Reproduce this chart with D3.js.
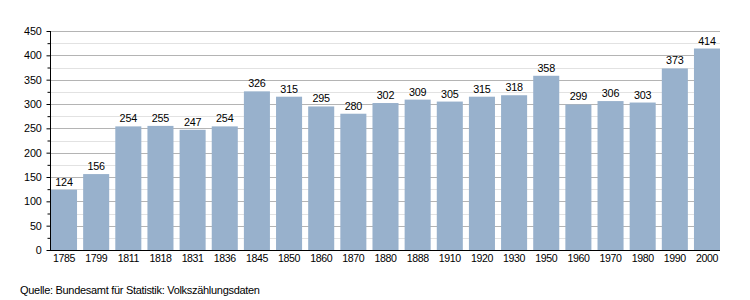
<!DOCTYPE html>
<html><head><meta charset="utf-8">
<script src="https://cdn.jsdelivr.net/npm/d3@7"></script>
<style>body{margin:0;background:#fff}svg{display:block}text{font-family:"Liberation Sans",Arial,sans-serif}</style>
</head><body>
<svg id="c" width="750" height="300"></svg>
<script>
const years = ["1785","1799","1811","1818","1831","1836","1845","1850","1860","1870","1880","1888","1910","1920","1930","1950","1960","1970","1980","1990","2000"];
const population = [124,156,254,255,247,254,326,315,295,280,302,309,305,315,318,358,299,306,303,373,414];
const yMajorTicks = [0,50,100,150,200,250,300,350,400,450];
const yMinorTicks = [25,75,125,175,225,275,325,375,425];
const sourceText = "Quelle: Bundesamt für Statistik: Volkszählungsdaten";

const svg = d3.select("#c");
const x0 = 50, x1 = 720, yB = 250, yT = 31;
const x = d3.scaleBand().domain(years).range([x0+1, x1]).paddingInner(0.19).paddingOuter(0);
const y = d3.scaleLinear().domain([0,450]).range([yB, yT]);

// minor grid
svg.append("g").selectAll("line").data(yMinorTicks).join("line")
  .attr("x1", x0).attr("x2", x1).attr("y1", d=>Math.round(y(d))+0.5).attr("y2", d=>Math.round(y(d))+0.5)
  .attr("stroke", "#e2e2e2").attr("stroke-width", 1);
// major grid
svg.append("g").selectAll("line").data(yMajorTicks.filter(d=>d>0)).join("line")
  .attr("x1", x0).attr("x2", x1).attr("y1", d=>Math.round(y(d))+0.5).attr("y2", d=>Math.round(y(d))+0.5)
  .attr("stroke", "#b4b4b4").attr("stroke-width", 1);

// bars
svg.append("g").selectAll("rect").data(years).join("rect")
  .attr("x", d=>x(d)).attr("width", x.bandwidth())
  .attr("y", (d,i)=>y(population[i])).attr("height", (d,i)=>yB - y(population[i]))
  .attr("fill", "#98b1cc");

// value labels
svg.append("g").selectAll("text").data(years).join("text")
  .attr("x", d=>x(d)+x.bandwidth()/2).attr("y", (d,i)=>y(population[i])-4)
  .attr("text-anchor","middle").attr("font-size", 10.8).attr("letter-spacing", "-0.2px").attr("fill","#000")
  .text((d,i)=>population[i]);

// y axis
const yAxis = d3.axisLeft(y).tickValues(yMajorTicks).tickSize(4).tickPadding(5);
const gy = svg.append("g").attr("transform", `translate(${x0+0.5},0)`).call(yAxis);
gy.select(".domain").attr("stroke","#000").attr("d", `M0,${yT}V${yB}`);
gy.selectAll(".tick text").attr("font-size", 10.8).attr("letter-spacing", "-0.2px").attr("font-family","Liberation Sans, Arial, sans-serif").attr("fill","#000");
gy.selectAll(".tick line").attr("stroke","#000");
const yMinorAxis = d3.axisLeft(y).tickValues(yMinorTicks).tickSize(3).tickFormat("");
const gym = svg.append("g").attr("transform", `translate(${x0+0.5},0)`).call(yMinorAxis);
gym.select(".domain").remove();
gym.selectAll(".tick line").attr("stroke","#000");

// x axis
const xAxis = d3.axisBottom(x).tickSize(0).tickPadding(4);
const gx = svg.append("g").attr("transform", `translate(0,${yB+0.5})`).call(xAxis);
gx.select(".domain").attr("stroke","#000").attr("d", `M${x0},0H${x1}`);
gx.selectAll(".tick text").attr("font-size", 10.6).attr("letter-spacing", "-0.4px").attr("font-family","Liberation Sans, Arial, sans-serif").attr("fill","#000");

svg.append("text").attr("x", 20).attr("y", 294).attr("font-size", 11).attr("letter-spacing", "-0.3px").attr("fill","#000").text(sourceText);
</script>
</body></html>
